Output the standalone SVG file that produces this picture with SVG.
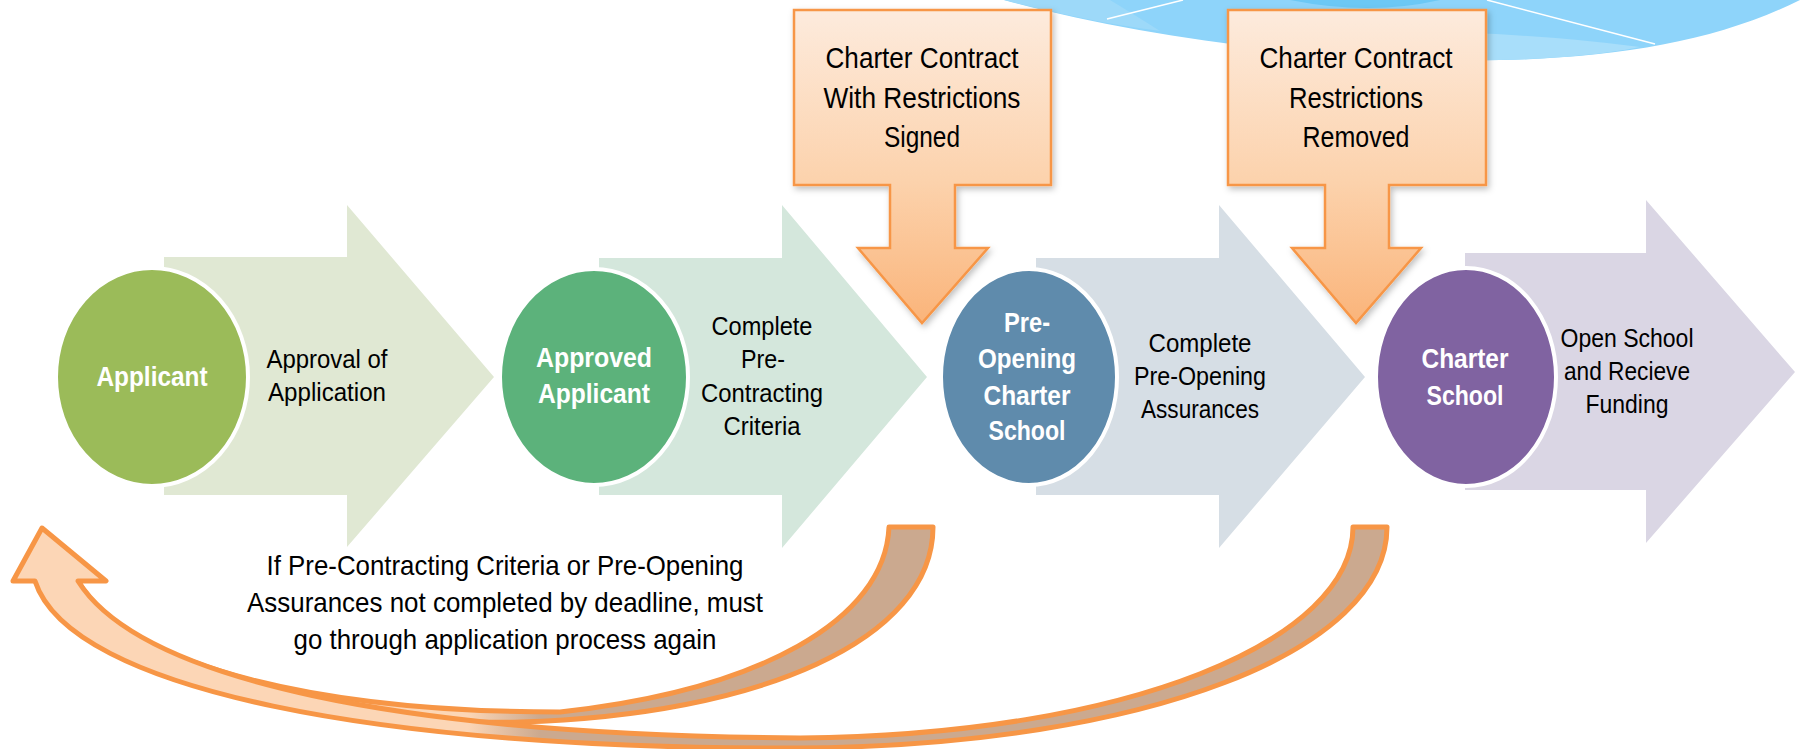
<svg xmlns="http://www.w3.org/2000/svg" width="1800" height="749" viewBox="0 0 1800 749">
  <defs>
    <style>
      .lbl { font-family: "Liberation Sans", Arial, sans-serif; font-size: 26px; fill: #000; text-anchor: middle; }
      .circ { font-family: "Liberation Sans", Arial, sans-serif; font-size: 28px; font-weight: bold; fill: #fff; text-anchor: middle; }
      .call { font-family: "Liberation Sans", Arial, sans-serif; font-size: 30px; fill: #000; text-anchor: middle; }
      .note { font-family: "Liberation Sans", Arial, sans-serif; font-size: 28px; fill: #000; text-anchor: middle; }
      .disc { stroke: #fff; stroke-width: 4; }
      .callout { fill: url(#orangeGrad); stroke: #F79646; stroke-width: 2.5; filter: url(#shadow); }
      .ret { stroke: #F79646; stroke-width: 5; stroke-linejoin: round; fill: url(#retGrad); }
    </style>
    <linearGradient id="orangeGrad" gradientUnits="userSpaceOnUse" x1="0" y1="10" x2="0" y2="323">
      <stop offset="0" stop-color="#FDEBDD"/>
      <stop offset="0.55" stop-color="#FCD2AC"/>
      <stop offset="1" stop-color="#FAB47A"/>
    </linearGradient>
    <linearGradient id="retGrad" gradientUnits="userSpaceOnUse" x1="0" y1="0" x2="1800" y2="0">
      <stop offset="0" stop-color="#FCD6B6"/>
      <stop offset="0.26" stop-color="#FCD6B6"/>
      <stop offset="0.3" stop-color="#CBA98F"/>
      <stop offset="1" stop-color="#CBA98F"/>
    </linearGradient>
    <filter id="shadow" x="-10%" y="-10%" width="130%" height="130%">
      <feDropShadow dx="2" dy="3" stdDeviation="3" flood-color="#000" flood-opacity="0.25"/>
    </filter>
  </defs>

  <!-- decorative blue shape top right -->
  <g id="decoration">
    <path d="M1004,0 C1150,40 1350,64 1500,60 C1620,58 1720,40 1800,0 Z" fill="#8ED4FA"/>
    <path d="M1240,39 Q1450,22 1640,47 C1600,55 1550,59 1500,60 C1400,62 1320,53 1240,39 Z" fill="#A8DEFA"/>
    <path d="M1004,0 C1060,14 1100,23 1160,31 Q1130,12 1110,0 Z" fill="#9DD9F9"/>
    <path d="M1290,0 Q1370,16 1440,0 Z" fill="#6CC8F5"/>
    <line x1="1107" y1="19" x2="1183" y2="0" stroke="#fff" stroke-width="1.5"/>
    <line x1="1487" y1="0" x2="1655" y2="44" stroke="#fff" stroke-width="1.5"/>
  </g>

  <!-- step arrows with discs -->
  <g id="node-applicant">
    <path d="M164,257 H347 V205 L494,377 L347,547 V495 H164 Z" fill="#E0E8D3"/>
    <ellipse class="disc" cx="152" cy="377" rx="96" ry="109" fill="#9BBB59"/>
    <text class="circ" x="152" y="386" textLength="111" lengthAdjust="spacingAndGlyphs">Applicant</text>
    <text class="lbl" x="327" y="368" textLength="121" lengthAdjust="spacingAndGlyphs">Approval of</text>
    <text class="lbl" x="327" y="401" textLength="118" lengthAdjust="spacingAndGlyphs">Application</text>
  </g>

  <g id="node-approved-applicant">
    <path d="M599,258 H782 V205 L927,377 L782,548 V495 H599 Z" fill="#D4E7DC"/>
    <ellipse class="disc" cx="594" cy="377" rx="94" ry="108" fill="#5CB27B"/>
    <text class="circ" x="594" y="367" textLength="116" lengthAdjust="spacingAndGlyphs">Approved</text>
    <text class="circ" x="594" y="403" textLength="112" lengthAdjust="spacingAndGlyphs">Applicant</text>
    <text class="lbl" x="762" y="335" textLength="101" lengthAdjust="spacingAndGlyphs">Complete</text>
    <text class="lbl" x="763" y="368" textLength="44" lengthAdjust="spacingAndGlyphs">Pre-</text>
    <text class="lbl" x="762" y="402" textLength="122" lengthAdjust="spacingAndGlyphs">Contracting</text>
    <text class="lbl" x="762" y="435" textLength="77" lengthAdjust="spacingAndGlyphs">Criteria</text>
  </g>

  <g id="node-pre-opening">
    <path d="M1036,258 H1219 V205 L1365,377 L1219,548 V495 H1036 Z" fill="#D6DEE5"/>
    <ellipse class="disc" cx="1029" cy="377" rx="88" ry="108" fill="#5F8BAC"/>
    <text class="circ" x="1027" y="332" textLength="46" lengthAdjust="spacingAndGlyphs">Pre-</text>
    <text class="circ" x="1027" y="368" textLength="98" lengthAdjust="spacingAndGlyphs">Opening</text>
    <text class="circ" x="1027" y="405" textLength="87" lengthAdjust="spacingAndGlyphs">Charter</text>
    <text class="circ" x="1027" y="440" textLength="77" lengthAdjust="spacingAndGlyphs">School</text>
    <text class="lbl" x="1200" y="352" textLength="103" lengthAdjust="spacingAndGlyphs">Complete</text>
    <text class="lbl" x="1200" y="385" textLength="132" lengthAdjust="spacingAndGlyphs">Pre-Opening</text>
    <text class="lbl" x="1200" y="418" textLength="118" lengthAdjust="spacingAndGlyphs">Assurances</text>
  </g>

  <g id="node-charter-school">
    <path d="M1465,253 H1646 V200 L1795,372 L1646,543 V490 H1465 Z" fill="#DAD6E4"/>
    <ellipse class="disc" cx="1466" cy="377" rx="90" ry="109" fill="#8063A1"/>
    <text class="circ" x="1465" y="368" textLength="87" lengthAdjust="spacingAndGlyphs">Charter</text>
    <text class="circ" x="1465" y="405" textLength="77" lengthAdjust="spacingAndGlyphs">School</text>
    <text class="lbl" x="1627" y="347" textLength="133" lengthAdjust="spacingAndGlyphs">Open School</text>
    <text class="lbl" x="1627" y="380" textLength="126" lengthAdjust="spacingAndGlyphs">and Recieve</text>
    <text class="lbl" x="1627" y="413" textLength="83" lengthAdjust="spacingAndGlyphs">Funding</text>
  </g>

  <!-- callouts -->
  <g id="node-contract-signed">
    <path class="callout" d="M794,10 H1051 V185 H955 V248 H988 L922,323 L858,248 H890 V185 H794 Z"/>
    <text class="call" x="922" y="68" textLength="193" lengthAdjust="spacingAndGlyphs">Charter Contract</text>
    <text class="call" x="922" y="108" textLength="197" lengthAdjust="spacingAndGlyphs">With Restrictions</text>
    <text class="call" x="922" y="147" textLength="76" lengthAdjust="spacingAndGlyphs">Signed</text>
  </g>

  <g id="node-restrictions-removed">
    <path class="callout" d="M1228,10 H1486 V185 H1389 V248 H1421 L1356,323 L1292,248 H1325 V185 H1228 Z"/>
    <text class="call" x="1356" y="68" textLength="193" lengthAdjust="spacingAndGlyphs">Charter Contract</text>
    <text class="call" x="1356" y="108" textLength="134" lengthAdjust="spacingAndGlyphs">Restrictions</text>
    <text class="call" x="1356" y="147" textLength="107" lengthAdjust="spacingAndGlyphs">Removed</text>
  </g>

  <!-- return connectors -->
  <g id="connectors">
    <path class="ret" d="M889,527 L933,527 C933,640 760,715 520,722 C330,727 100,680 35,581 L78,581 C130,670 330,712 560,712 C760,690 885,620 889,527 Z"/>
    <path class="ret" d="M42,528 L106,581 L78,581 C140,680 400,735 800,738 C1130,735 1353,640 1353,527 L1387,527 C1387,650 1150,745 800,748 C380,750 70,690 35,581 L13,581 Z"/>
  </g>

  <g id="node-note">
    <text class="note" x="505" y="575" textLength="477" lengthAdjust="spacingAndGlyphs">If Pre-Contracting Criteria or Pre-Opening</text>
    <text class="note" x="505" y="612" textLength="516" lengthAdjust="spacingAndGlyphs">Assurances not completed by deadline, must</text>
    <text class="note" x="505" y="649" textLength="423" lengthAdjust="spacingAndGlyphs">go through application process again</text>
  </g>
</svg>
